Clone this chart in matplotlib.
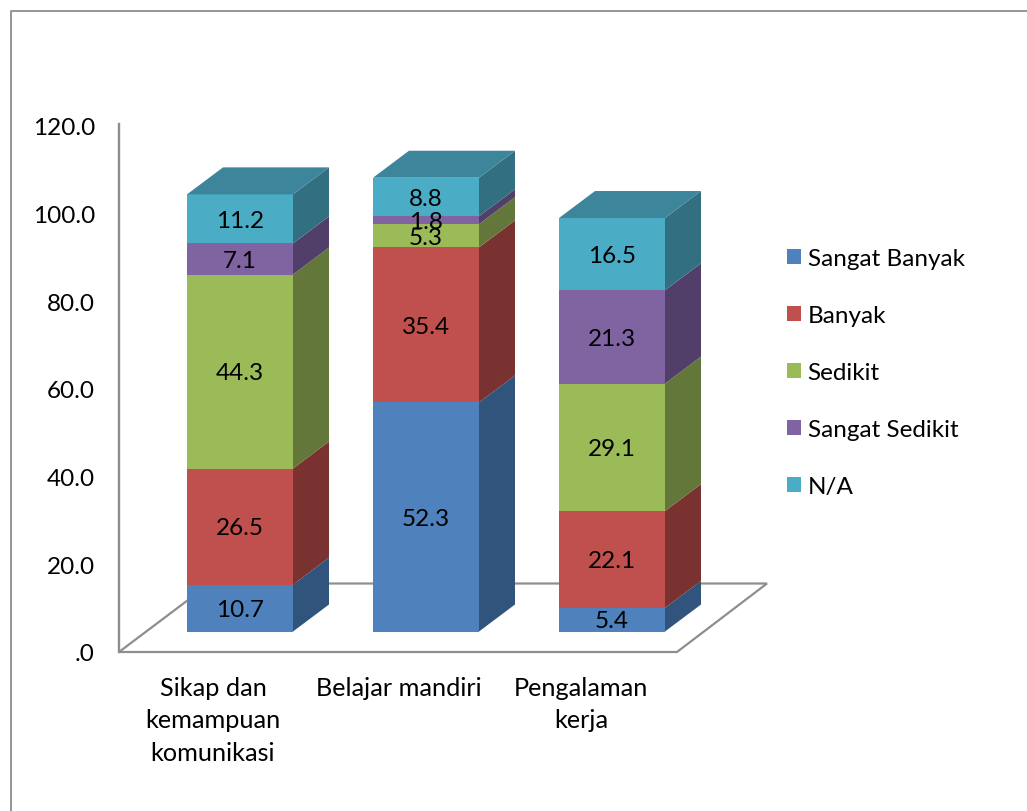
import numpy as np
import matplotlib
matplotlib.use("Agg")
import matplotlib.pyplot as plt
from matplotlib.patches import Polygon, Patch

plt.rcParams['font.family'] = ['Lato', 'DejaVu Sans']

categories = ['Sikap dan\nkemampuan\nkomunikasi', 'Belajar mandiri', 'Pengalaman\nkerja']
series_names = ['Sangat Banyak', 'Banyak', 'Sedikit', 'Sangat Sedikit', 'N/A']
sangat_banyak = [10.7, 52.3, 5.4]
banyak = [26.5, 35.4, 22.1]
sedikit = [44.3, 5.3, 29.1]
sangat_sedikit = [7.1, 1.8, 21.3]
na = [11.2, 8.8, 16.5]
y_ticks = [0, 20, 40, 60, 80, 100, 120]
y_tick_labels = ['.0', '20.0', '40.0', '60.0', '80.0', '100.0', '120.0']

series = [sangat_banyak, banyak, sedikit, sangat_sedikit, na]
front_colors = ['#4F81BD', '#C0504D', '#9BBB59', '#8064A2', '#4BACC6']
side_colors = ['#31547D', '#7A3230', '#64773A', '#523F69', '#326F80']
top_color = '#3C859B'
grey = '#8E8E8E'

W, H = 1027, 812
BASE_PX, UNIT_PX = 632.5, 4.38    # pixel row of value 0, pixels per value unit
FIRST_PX, STEP_PX = 240, 186      # pixel column of first bar centre, bar spacing
bar_width = 106 / STEP_PX
depth_x = 36 / STEP_PX
depth_y = 27 / UNIT_PX
label_shift = [27, 27, 31]        # category labels sit left of the bars
font_size = 17.5

fig = plt.figure(figsize=(W / 100, H / 100), dpi=100)
ax = fig.add_axes([0, 0, 1, 1])
ax.set_xlim(-FIRST_PX / STEP_PX, (W - FIRST_PX) / STEP_PX)
ax.set_ylim((BASE_PX - H) / UNIT_PX, BASE_PX / UNIT_PX)
ax.axis('off')


def px(x, y):
    return (x - FIRST_PX) / STEP_PX, (BASE_PX - y) / UNIT_PX


# outer chart border, only left and top are in the picture
ax.plot(*zip(px(10.5, H), px(10.5, 11.5), px(W, 11.5)), color=grey, lw=1.3, zorder=1)

# back wall line and floor
ax.plot(*zip(px(119, 125), px(119, 653)), color=grey, lw=1.7, zorder=1)
floor = [px(119, 653), px(677, 653), px(767, 584.5), px(210, 584.5)]
ax.add_patch(Polygon(floor, closed=True, fill=False, edgecolor=grey, lw=1.6, zorder=1))

x = np.arange(len(categories))
bottom = np.zeros(len(categories))
for name, vals, fc, sc in zip(series_names, series, front_colors, side_colors):
    vals = np.array(vals)
    ax.bar(x, vals, bar_width, bottom=bottom, color=fc, zorder=3, linewidth=0)
    for i in x:
        right = i + bar_width / 2
        y0, y1 = bottom[i], bottom[i] + vals[i]
        side = [(right, y0), (right + depth_x, y0 + depth_y),
                (right + depth_x, y1 + depth_y), (right, y1)]
        ax.add_patch(Polygon(side, closed=True, facecolor=sc, edgecolor='none', zorder=3))
    bottom += vals

# top faces
for i in x:
    left, right = i - bar_width / 2, i + bar_width / 2
    t = bottom[i]
    top = [(left, t), (right, t), (right + depth_x, t + depth_y), (left + depth_x, t + depth_y)]
    ax.add_patch(Polygon(top, closed=True, facecolor=top_color, edgecolor='none', zorder=3))

# value labels
bottom = np.zeros(len(categories))
for vals in series:
    for i in x:
        ax.text(i, bottom[i] + vals[i] / 2 - 0.3, f'{vals[i]:.1f}', ha='center', va='center',
                fontsize=font_size, color='black', zorder=5)
    bottom += np.array(vals)

# y axis labels sit on the front plane of the floor
for v, lab in zip(y_ticks, y_tick_labels):
    lx = px(95, 0)[0]
    ly = v * 526 / 120 / UNIT_PX + px(0, 655)[1]
    ax.text(lx, ly, lab, ha='right', va='center', fontsize=font_size, color='black')

# category labels
for i, lab in zip(x, categories):
    lx = i - label_shift[i] / STEP_PX
    ax.text(lx, px(0, 677)[1], lab, ha='center', va='top', fontsize=18.2,
            color='black', linespacing=1.5)

handles = [Patch(facecolor=c, edgecolor='none') for c in front_colors]
leg = ax.legend(handles, series_names, loc='upper left',
                bbox_to_anchor=(765 / W, 1 - 227 / H), frameon=False, fontsize=font_size,
                handlelength=0.57, handleheight=0.57, handletextpad=0.28,
                labelspacing=1.48, labelcolor='black')

fig.savefig('out.png', dpi=100)
